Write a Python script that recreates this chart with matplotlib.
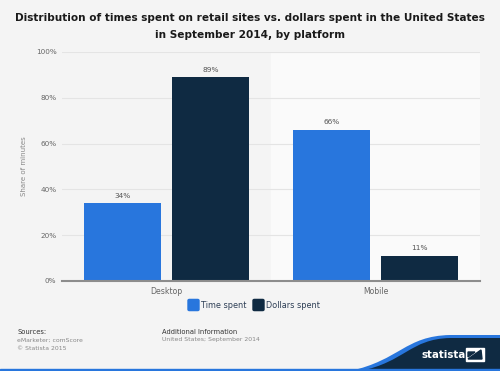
import matplotlib
matplotlib.use("Agg")
import matplotlib.pyplot as plt
import numpy as np
from matplotlib.patches import PathPatch, FancyBboxPatch, Rectangle, Polygon
from matplotlib.path import Path

categories = ["Desktop", "Mobile"]
series_names = ["Time spent", "Dollars spent"]
time_spent = [34, 66]
dollars_spent = [89, 11]
yticks = [0, 20, 40, 60, 80, 100]
ytick_labels = ["0%", "20%", "40%", "60%", "80%", "100%"]

c_time = "#2876dd"
c_dollar = "#0f2a42"
bg = "#f4f4f4"

fig = plt.figure(figsize=(5.0, 3.71), dpi=100)
fig.patch.set_facecolor(bg)

ax = fig.add_axes([0.124, 0.2426, 0.836, 0.6173])
ax.set_facecolor(bg)
x = np.arange(len(categories))
w = 0.37
off = 0.21
ax.axvspan(0.5, 1.5, color="#fafafa", zorder=0)
b1 = ax.bar(x - off, time_spent, w, color=c_time, zorder=3)
b2 = ax.bar(x + off, dollars_spent, w, color=c_dollar, zorder=3)
for bars, vals in ((b1, time_spent), (b2, dollars_spent)):
    for r, v in zip(bars, vals):
        ax.text(r.get_x() + r.get_width() / 2, v + 2, f"{v}%", ha="center",
                va="bottom", fontsize=5.3, color="#555555")
ax.set_xlim(-0.5, 1.5)
ax.set_ylim(0, 100)
ax.set_yticks(yticks)
ax.set_yticklabels(ytick_labels, fontsize=5.2, color="#666666")
ax.set_xticks(x)
ax.set_xticklabels(categories, fontsize=5.6, color="#666666")
ax.tick_params(length=0, pad=4)
ax.tick_params(axis="y", pad=4)
ax.grid(axis="y", color="#e4e4e4", linewidth=0.8, zorder=1)
for s in ["top", "right", "left"]:
    ax.spines[s].set_visible(False)
ax.spines["bottom"].set_color("#8c8c8c")
ax.spines["bottom"].set_linewidth(1.5)
ax.spines["bottom"].set_zorder(4)
ax.set_ylabel("Share of minutes", fontsize=5, color="#888888", labelpad=6)

fig.text(0.5, 0.951, "Distribution of times spent on retail sites vs. dollars spent in the United States",
         ha="center", va="center", fontsize=7.6, fontweight="bold", color="#1a1a1a")
fig.text(0.5, 0.906, "in September 2014, by platform",
         ha="center", va="center", fontsize=7.6, fontweight="bold", color="#1a1a1a")

# legend
ly = 1 - 305 / 371
fig.patches.append(FancyBboxPatch((188 / 500, ly - 0.015), 0.022, 0.030, boxstyle="round,pad=0,rounding_size=0.003",
                                  transform=fig.transFigure, color=c_time))
fig.text(201 / 500, ly, series_names[0], fontsize=5.9, color="#2d3e55", va="center")
fig.patches.append(FancyBboxPatch((253 / 500, ly - 0.015), 0.022, 0.030, boxstyle="round,pad=0,rounding_size=0.003",
                                  transform=fig.transFigure, color=c_dollar))
fig.text(266 / 500, ly, series_names[1], fontsize=5.9, color="#2d3e55", va="center")

# footer
fig.text(17 / 500, 1 - 332 / 371, "Sources:", fontsize=4.9, color="#333333", va="center")
fig.text(17 / 500, 1 - 340 / 371, "eMarketer; comScore", fontsize=4.4, color="#888888", va="center")
fig.text(17 / 500, 1 - 348 / 371, "© Statista 2015", fontsize=4.4, color="#888888", va="center")
fig.text(162 / 500, 1 - 332 / 371, "Additional Information", fontsize=4.9, color="#333333", va="center")
fig.text(162 / 500, 1 - 340 / 371, "United States; September 2014", fontsize=4.4, color="#888888", va="center")

# logo wave
def fx(px):
    return px / 500
def fy(py):
    return 1 - py / 371
codes = [Path.MOVETO, Path.CURVE4, Path.CURVE4, Path.CURVE4, Path.LINETO, Path.LINETO, Path.CLOSEPOLY]
verts = [(fx(360), fy(371)), (fx(405), fy(362)), (fx(410), fy(339)), (fx(450), fy(338)),
         (fx(500), fy(338)), (fx(500), fy(371)), (fx(360), fy(371))]
verts_b = [(fx(350), fy(371)), (fx(400), fy(360)), (fx(405), fy(336)), (fx(450), fy(335)),
           (fx(500), fy(335)), (fx(500), fy(371)), (fx(350), fy(371))]
fig.patches.append(PathPatch(Path(verts_b, codes), transform=fig.transFigure, facecolor=c_time, edgecolor="none"))
fig.patches.append(PathPatch(Path(verts, codes), transform=fig.transFigure, facecolor=c_dollar, edgecolor="none"))
fig.patches.append(Rectangle((0, 0), 1, 2.5 / 371, transform=fig.transFigure, color=c_time))
fig.text(fx(421), fy(355), "statista", fontsize=7.4, fontweight="bold", color="white", va="center")
fig.patches.append(Rectangle((fx(466), fy(361)), 18 / 500, 13 / 371, transform=fig.transFigure, color="white"))
fig.patches.append(Polygon([(fx(468), fy(359)), (fx(481), fy(350)), (fx(482), fy(359))], closed=True,
                           transform=fig.transFigure, color=c_dollar))
fig.patches.append(Polygon([(fx(468), fy(352)), (fx(475), fy(352)), (fx(468), fy(357))], closed=True,
                           transform=fig.transFigure, color=c_dollar))

fig.savefig("out.png", dpi=100, facecolor=bg)
